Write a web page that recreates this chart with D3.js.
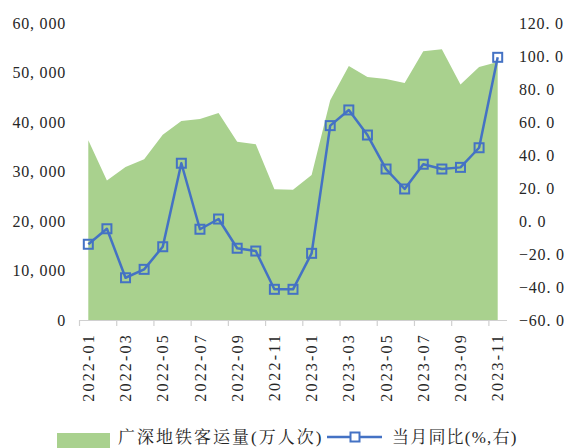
<!DOCTYPE html>
<html><head><meta charset="utf-8">
<script src="https://cdn.jsdelivr.net/npm/d3@7"></script>
<style>body{margin:0;background:#fff;} svg{display:block;}</style>
</head><body>
<svg id="c" width="568" height="448"></svg>
<script>
const months = ["2022-01","2022-02","2022-03","2022-04","2022-05","2022-06","2022-07","2022-08","2022-09","2022-10","2022-11","2022-12",
"2023-01","2023-02","2023-03","2023-04","2023-05","2023-06","2023-07","2023-08","2023-09","2023-10","2023-11"];
const ridership = [36300,28200,30900,32500,37400,40200,40600,41800,36000,35500,26400,26300,
29300,44400,51300,49100,48700,47900,54300,54700,47600,51100,52100];
const yoy = [-14.1,-4.7,-34.4,-29.3,-15.6,35.0,-5.0,1.2,-16.5,-18.2,-41.4,-41.4,
-19.6,57.8,67.3,52.1,31.5,19.4,34.4,31.5,32.5,44.4,99.2];
const leftTicks = [0,10000,20000,30000,40000,50000,60000];
const rightTicks = [-60,-40,-20,0,20,40,60,80,100,120];
const xLabels = ["2022-01","2022-03","2022-05","2022-07","2022-09","2022-11","2023-01","2023-03","2023-05","2023-07","2023-09","2023-11"];
const seriesNames = ["广深地铁客运量(万人次)","当月同比(%,右)"];

const svg = d3.select("#c");
const x = d3.scaleBand().domain(months).range([79,507]).padding(0);
const cx = d => x(d) + x.bandwidth()/2;
const yL = d3.scaleLinear().domain([0,60000]).range([320,23]);
const yR = d3.scaleLinear().domain([-60,120]).range([320,23]);
const green = "#a9d18e", blue = "#4472c4";
const serif = "'Liberation Serif','Noto Serif CJK SC','Noto Sans CJK SC',serif";

// area
const area = d3.area().x((d,i)=>cx(months[i])).y0(yL(0)).y1(d=>yL(d));
svg.append("path").datum(ridership).attr("d",area).attr("fill",green);

// x axis line + ticks
svg.append("line").attr("x1",79).attr("x2",507).attr("y1",320.5).attr("y2",320.5)
  .attr("stroke","#d0d0d0").attr("stroke-width",1.2);
months.forEach((m,i)=>{
  if(i%2===0){
    svg.append("line").attr("x1",x(m)+0.5).attr("x2",x(m)+0.5).attr("y1",320).attr("y2",326)
      .attr("stroke","#d0d0d0").attr("stroke-width",1.2);
  }
});

// x labels
xLabels.forEach(l=>{
  svg.append("text").attr("transform",`translate(${cx(l)},333) rotate(-90)`)
    .attr("text-anchor","end").attr("dy","0.35em")
    .style("font-family",serif).style("font-size","16px").style("letter-spacing","2.2px")
    .attr("fill","#262626").text(l);
});

// left labels
leftTicks.forEach(t=>{
  svg.append("text").attr("x",66).attr("y",yL(t)).attr("dy","0.35em").attr("text-anchor","end")
    .style("font-family",serif).style("font-size","16px").style("letter-spacing","0.8px")
    .attr("fill","#262626").text(d3.format(",")(t).replace(",", ", "));
});
// right labels
rightTicks.forEach(t=>{
  svg.append("text").attr("x",519).attr("y",yR(t)).attr("dy","0.35em").attr("text-anchor","start")
    .style("font-family",serif).style("font-size","16px").style("letter-spacing","0.8px")
    .attr("fill","#262626").text(d3.format(".1f")(t).replace(".", ". "));
});

// line
const line = d3.line().x((d,i)=>cx(months[i])).y(d=>yR(d));
svg.append("path").datum(yoy).attr("d",line).attr("fill","none").attr("stroke",blue).attr("stroke-width",2.5)
  .attr("stroke-linejoin","round");
svg.selectAll("rect.m").data(yoy).enter().append("rect").attr("class","m")
  .attr("x",(d,i)=>cx(months[i])-4.5).attr("y",d=>yR(d)-4.5).attr("width",9).attr("height",9)
  .attr("fill","none").attr("stroke",blue).attr("stroke-width",2);

// legend
svg.append("rect").attr("x",57).attr("y",433).attr("width",53).attr("height",15).attr("fill",green);
svg.append("text").attr("x",118).attr("y",443)
  .style("font-family",serif).style("font-size","17px").style("letter-spacing","2px")
  .attr("fill","#262626").text(seriesNames[0]);
svg.append("line").attr("x1",327).attr("x2",382).attr("y1",437).attr("y2",437).attr("stroke",blue).attr("stroke-width",2.5);
svg.append("rect").attr("x",350.5).attr("y",432.5).attr("width",9).attr("height",9).attr("fill","#fff").attr("stroke",blue).attr("stroke-width",2);
svg.append("text").attr("x",392).attr("y",443)
  .style("font-family",serif).style("font-size","17px").style("letter-spacing","1.2px")
  .attr("fill","#262626").text(seriesNames[1]);
</script>
</body></html>
